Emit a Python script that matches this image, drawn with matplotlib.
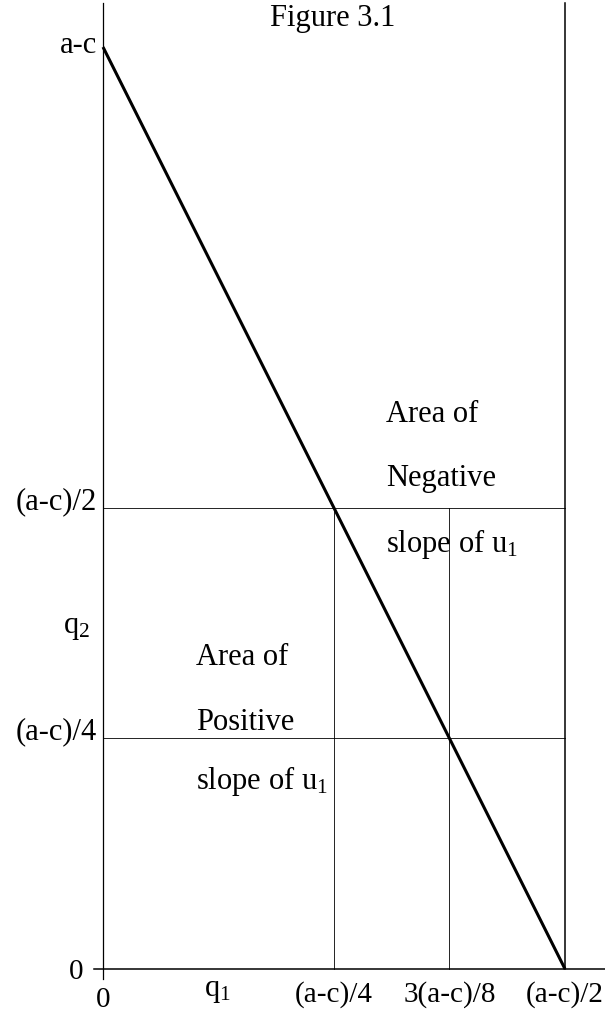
import matplotlib
matplotlib.use("Agg")
import matplotlib.pyplot as plt

# a-c = 1
reaction_q1 = [0.0, 0.5]
reaction_q2 = [1.0, 0.0]
h_levels = [0.5, 0.25]
v_levels = [0.25, 0.375]
x_ticks = [0.0, 0.25, 0.375, 0.5]
x_labels = ["0", "(a-c)/4", "3(a-c)/8", "(a-c)/2"]
y_ticks = [0.0, 0.25, 0.5, 1.0]
y_labels = ["0", "(a-c)/4", "(a-c)/2", "a-c"]

plt.rcParams["font.family"] = ["Liberation Serif", "DejaVu Serif"]
plt.rcParams["mathtext.fontset"] = "custom"
plt.rcParams["mathtext.rm"] = "Liberation Serif"
plt.rcParams["mathtext.it"] = "Liberation Serif"

fig = plt.figure(figsize=(6.05, 10.12), dpi=100)
ax = fig.add_axes([0, 0, 1, 1])
ax.set_xlim(-0.1115, 0.5433)
ax.set_ylim(-0.0456, 1.0521)
ax.axis("off")

fs = 22
fs_x = 21
k = "black"

# axes
ax.plot([0, 0], [-0.011, 1.048], color=k, lw=0.9)
ax.plot([-0.0097, 0.545], [0, 0], color=k, lw=1.1)
ax.plot([0.5, 0.5], [0, 1.048], color=k, lw=1.1)

# threshold lines
for y in h_levels:
    ax.plot([0, 0.5], [y, y], color=k, lw=0.6)
for x in v_levels:
    ax.plot([x, x], [0, 0.5], color=k, lw=0.6)

# best-response line
ax.plot(reaction_q1, reaction_q2, color=k, lw=2.2, solid_capstyle="butt")

# tick labels
for x, lab in zip(x_ticks, x_labels):
    dy = -0.0325 if lab == "0" else -0.027
    ax.text(x, dy, lab, fontsize=fs_x, ha="center", va="center")
for y, lab in zip(y_ticks, y_labels):
    if lab == "0":
        ax.text(-0.0216, y - 0.002, lab, fontsize=fs_x, ha="right", va="center")
    elif lab == "a-c":
        ax.text(-0.0065, y + 0.003, lab, fontsize=fs, ha="right", va="center")
    else:
        ax.text(-0.0065, y + 0.008, lab, fontsize=fs, ha="right", va="center")

ax.text(0.124, -0.022, r"q$_\mathrm{1}$", fontsize=fs, ha="center", va="center")
ax.text(-0.0135, 0.371, r"q$_\mathrm{2}$", fontsize=fs, ha="right", va="center")
ax.text(0.249, 1.032, "Figure 3.1", fontsize=fs, ha="center", va="center")

# region labels
ax.text(0.306, 0.602, "Area of", fontsize=fs, ha="left", va="center")
ax.text(0.306, 0.533, "Negative", fontsize=fs, ha="left", va="center")
ax.text(0.306, 0.462, r"slope of u$_\mathrm{1}$", fontsize=fs, ha="left", va="center")

ax.text(0.101, 0.339, "Area of", fontsize=fs, ha="left", va="center")
ax.text(0.101, 0.268, "Positive", fontsize=fs, ha="left", va="center")
ax.text(0.101, 0.205, r"slope of u$_\mathrm{1}$", fontsize=fs, ha="left", va="center")

fig.savefig("out.png", dpi=100)
